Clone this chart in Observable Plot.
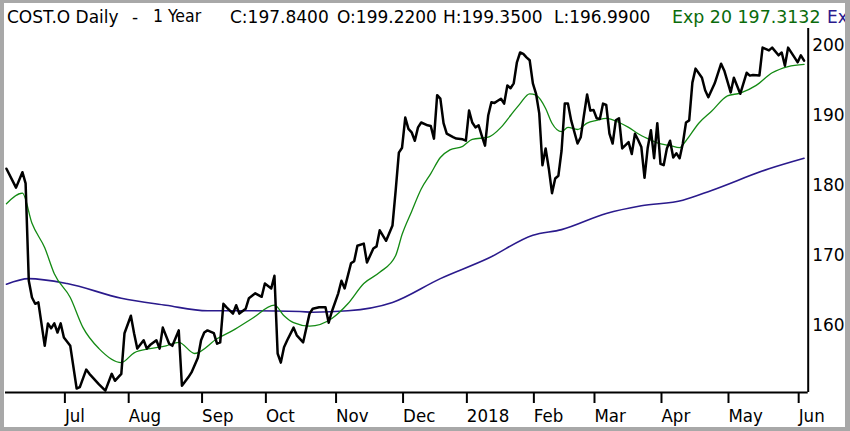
<!DOCTYPE html>
<html>
<head>
<meta charset="utf-8">
<script src="https://cdn.jsdelivr.net/npm/d3@7"></script>
<script src="https://cdn.jsdelivr.net/npm/@observablehq/plot@0.6"></script>
<style>
  html, body { margin: 0; padding: 0; background: #fff; }
  #wrap { position: relative; width: 850px; height: 431px; overflow: hidden; background: #fff; }
  #chart { position: absolute; left: 0; top: 0; }
  .hdr { position: absolute; top: 8.6px; font-family: "DejaVu Sans", sans-serif; font-size: 17px; line-height: 1; white-space: pre; color: #000; }
  .cnd { font-family: "DejaVu Sans Condensed", "DejaVu Sans", sans-serif; font-size: 17.5px; top: 8.2px; }
  .bd { position: absolute; background: #a8a8a8; }
</style>
</head>
<body>
<div id="wrap">
  <div id="chart"></div>
  <div class="hdr" style="left:7px">COST.O Daily</div>
  <div class="hdr" style="left:132px">-</div>
  <div class="hdr cnd" style="left:153px">1 Year</div>
  <div class="hdr" style="left:230px">C:197.8400</div>
  <div class="hdr" style="left:337px">O:199.2200</div>
  <div class="hdr" style="left:443px">H:199.3500</div>
  <div class="hdr" style="left:554px">L:196.9900</div>
  <div class="hdr" style="left:672px;color:#0b6b0b;font-size:17.4px">Exp 20 197.3132</div>
  <div class="hdr" style="left:827px;color:#2a1a8c">Ex</div>
  <div class="bd" style="left:0;top:0;width:4px;height:431px"></div>
  <div class="bd" style="left:0;top:0;width:850px;height:3px"></div>
  <div class="bd" style="left:845px;top:0;width:5px;height:431px"></div>
  <div class="bd" style="left:0;top:427px;width:850px;height:4px"></div>
</div>
<script>
// Close series (trading-day index, value)
const closeDay = [
  0,3,5,6,7,8,9,10,12,13,
  14,15,16,17,18,20,22,23,25,26,
  27,29,31,33,34,35,36,37,39,40,
  41,43,44,45,47,48,49,51,52,54,
  55,57,58,60,61,62,63,65,66,67,
  68,69,71,72,73,75,76,78,80,81,
  83,84,85,86,87,88,90,91,93,95,
  96,98,100,101,102,104,105,106,108,109,
  110,112,113,115,116,117,119,121,122,123,
  124,125,126,127,128,129,130,132,133,134,
  135,136,137,138,140,141,143,144,145,146,
  147,148,149,150,151,152,153,154,155,156,
  157,158,159,160,161,162,163,164,165,166,
  167,168,169,170,171,172,173,174,175,176,
  177,179,180,181,182,183,184,185,186,187,
  188,189,190,191,192,193,195,196,197,198,
  199,200,201,202,203,204,205,206,207,208,
  209,210,211,212,213,214,215,216,218,219,
  220,222,224,225,227,228,230,232,233,234,
  236,237,239,240,242,243,244,245,247,248,
  249,250
];
const closeVal = [
  182.4,179.7,181.9,180.3,166.4,164.0,163.1,163.3,157.1,160.3,
  159.6,160.3,159.0,160.3,158.3,157.1,151.0,151.2,153.7,153.1,
  152.6,151.6,150.7,153.1,152.1,152.6,153.1,158.9,161.4,158.9,
  156.7,157.9,156.7,157.2,157.9,156.7,159.7,157.4,157.1,159.3,
  151.4,152.6,153.3,155.4,157.9,159.0,159.3,158.9,157.4,157.6,
  163.1,162.6,161.7,162.9,161.7,162.4,163.9,164.6,164.1,166.0,
  165.3,167.1,156.0,154.7,156.9,157.9,159.7,158.6,157.6,161.7,
  162.4,162.6,162.6,160.4,162.0,164.6,166.4,165.3,168.9,169.2,
  171.4,171.7,169.0,171.0,171.3,173.6,172.1,174.3,179.3,184.7,
  185.4,189.7,188.1,187.6,186.4,188.3,189.0,188.6,188.5,186.7,
  192.9,192.4,188.9,187.4,186.9,186.7,186.6,186.4,190.7,189.0,
  188.3,188.6,187.1,185.7,190.0,191.9,191.8,192.1,192.4,191.7,
  194.3,193.9,194.6,197.6,199.0,198.8,198.3,197.9,194.6,193.1,
  190.3,182.9,185.3,182.4,178.9,181.0,181.4,185.0,191.7,191.7,
  189.3,186.0,186.9,190.0,193.0,190.7,190.8,189.6,189.5,191.7,
  191.5,187.4,186.0,189.3,189.6,185.3,186.2,184.5,187.4,186.5,
  185.5,181.1,185.4,187.9,183.9,188.9,183.1,182.9,185.3,186.4,
  184.0,184.6,183.9,186.0,189.0,189.3,194.7,196.7,195.4,193.6,
  192.6,194.6,197.4,196.4,193.3,195.4,193.1,196.1,195.7,195.8,
  195.7,199.7,199.3,199.7,198.6,199.0,197.1,199.7,198.3,197.6,
  198.6,197.84
];
// Exponential 20
const ema20Day = [0,5,8,12,15,20,24,29,36,40,45,50,54,59,66,71,77,84,87,90,95,102,107,112,117,122,124,127,130,133,136,139,143,146,151,155,158,161,164,166,169,171,174,176,179,182,185,188,192,195,198,201,204,208,211,213,217,221,226,230,235,240,245,250];
const ema20Val = [177.4,178.9,174.6,171.1,167.4,164.0,159.7,156.7,154.7,156.1,156.7,157.1,157.6,156.0,158.1,159.3,161.0,162.9,161.4,160.4,159.9,161.0,163.1,166.0,167.6,170.0,173.0,176.3,179.5,181.7,184.0,185.1,185.6,186.6,186.9,188.3,190.0,191.7,193.1,192.9,191.0,188.9,187.7,188.3,188.0,188.9,189.3,189.6,189.0,188.3,187.4,186.7,186.1,185.7,185.4,186.4,188.9,190.6,192.8,193.2,194.3,196.1,197.0,197.31];
// Exponential 200
const ema200Day = [0,7,19,36,50,63,77,92,96,107,121,136,151,165,174,188,199,212,221,239,250];
const ema200Val = [165.9,166.7,166.0,163.9,162.9,162.1,162.1,162.0,161.9,162.1,163.3,166.7,169.6,172.9,173.7,176.0,177.1,177.9,179.3,182.4,183.9];
// Axis ticks
const monthIdx = [18,38,61,81,103,124,144,165,184,205,226,248];
const monthLabel = ["Jul","Aug","Sep","Oct","Nov","Dec","2018","Feb","Mar","Apr","May","Jun"];
const priceTicks = [160,170,180,190,200];

const closeData = closeDay.map((d, i) => ({d, v: closeVal[i]}));
const ema20Data = ema20Day.map((d, i) => ({d, v: ema20Val[i]}));
const ema200Data = ema200Day.map((d, i) => ({d, v: ema200Val[i]}));
const labelOf = new Map(monthIdx.map((d, i) => [d, monthLabel[i]]));

const xDom = [-0.3, 251.3];
const yDom = [150.43, 202.43];

const chart = Plot.plot({
  width: 850,
  height: 431,
  marginLeft: 5,
  marginRight: 42.3,
  marginTop: 28,
  marginBottom: 39,
  style: {background: "transparent", overflow: "visible"},
  x: {domain: xDom},
  y: {domain: yDom},
  marks: [
    Plot.line(ema200Data, {x: "d", y: "v", stroke: "#2a1a8c", strokeWidth: 1.6, curve: "monotone-x"}),
    Plot.line(ema20Data, {x: "d", y: "v", stroke: "#138a13", strokeWidth: 1.3, curve: "monotone-x"}),
    Plot.line(closeData, {x: "d", y: "v", stroke: "#000", strokeWidth: 2.5, strokeLinejoin: "round"}),
    Plot.ruleY([yDom[0]], {stroke: "#000", strokeWidth: 2}),
    Plot.ruleX([xDom[1]], {stroke: "#000", strokeWidth: 2}),
    Plot.axisX({
      ticks: monthIdx,
      tickFormat: d => labelOf.get(d),
      tickSize: 11,
      tickPadding: 5,
      strokeWidth: 2,
      textAnchor: "start",
      dx: 1,
      fontSize: 18.5,
      fontFamily: "DejaVu Sans Condensed",
      fill: "#000",
      label: null
    }),
    Plot.axisY({
      anchor: "right",
      ticks: priceTicks,
      tickSize: 0,
      tickPadding: 4,
      fontSize: 17,
      fontFamily: "DejaVu Sans",
      fill: "#000",
      label: null
    })
  ]
});
document.getElementById("chart").appendChild(chart);
</script>
</body>
</html>
